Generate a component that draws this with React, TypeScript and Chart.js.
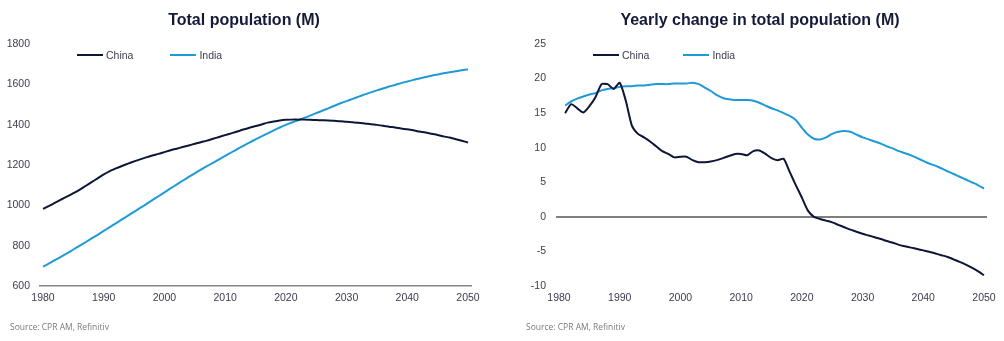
import React, { useEffect, useRef } from "react";
import { Chart, registerables } from "chart.js";

Chart.register(...registerables);

const years: number[] = [
  1980, 1981, 1982, 1983, 1984, 1985, 1986, 1987, 1988, 1989,
  1990, 1991, 1992, 1993, 1994, 1995, 1996, 1997, 1998, 1999,
  2000, 2001, 2002, 2003, 2004, 2005, 2006, 2007, 2008, 2009,
  2010, 2011, 2012, 2013, 2014, 2015, 2016, 2017, 2018, 2019,
  2020, 2021, 2022, 2023, 2024, 2025, 2026, 2027, 2028, 2029,
  2030, 2031, 2032, 2033, 2034, 2035, 2036, 2037, 2038, 2039,
  2040, 2041, 2042, 2043, 2044, 2045, 2046, 2047, 2048, 2049, 2050,
];

const chinaPop: number[] = [
  982, 997, 1013, 1029, 1044, 1060, 1077, 1096, 1115, 1134,
  1153, 1170, 1183, 1195, 1207, 1218, 1228, 1238, 1247, 1255,
  1264, 1273, 1281, 1289, 1297, 1305, 1313, 1321, 1330, 1339,
  1348, 1357, 1366, 1376, 1385, 1393, 1401, 1410, 1416, 1421,
  1424, 1425, 1425, 1425, 1424, 1423, 1422, 1421, 1419, 1417,
  1414, 1412, 1409, 1406, 1402, 1399, 1395, 1390, 1386, 1381,
  1377, 1372, 1366, 1361, 1355, 1349, 1342, 1336, 1328, 1320, 1312,
];

const indiaPop: number[] = [
  696, 712, 729, 746, 763, 781, 799, 817, 836, 854,
  873, 892, 911, 930, 949, 968, 987, 1006, 1026, 1045,
  1064, 1084, 1103, 1122, 1141, 1159, 1177, 1194, 1211, 1228,
  1245, 1262, 1279, 1295, 1311, 1327, 1342, 1357, 1372, 1386,
  1399, 1411, 1422, 1433, 1445, 1457, 1469, 1481, 1494, 1506,
  1517, 1528, 1539, 1550, 1560, 1570, 1579, 1589, 1597, 1606,
  1614, 1622, 1629, 1636, 1643, 1649, 1655, 1660, 1665, 1670, 1674,
];

const changeYears: number[] = years.slice(1);

const chinaChange: number[] = [
  15.0, 16.3, 15.7, 15.1, 16.0, 17.3, 19.2, 19.2, 18.5, 19.4,
  16.8, 13.2, 12.0, 11.5, 10.9, 10.2, 9.5, 9.1, 8.6, 8.7,
  8.7, 8.2, 7.9, 7.9, 8.0, 8.2, 8.5, 8.8, 9.1, 9.1,
  8.9, 9.5, 9.6, 9.1, 8.5, 8.2, 8.4, 6.5, 4.6, 2.8,
  0.9, 0.0, -0.3, -0.55, -0.8, -1.15, -1.5, -1.85, -2.15, -2.45,
  -2.7, -2.95, -3.2, -3.5, -3.75, -4.05, -4.25, -4.45, -4.65, -4.85,
  -5.05, -5.3, -5.55, -5.8, -6.15, -6.5, -6.9, -7.35, -7.85, -8.45,
];

const indiaChange: number[] = [
  16.1, 16.7, 17.1, 17.4, 17.7, 17.9, 18.3, 18.5, 18.6, 18.8,
  18.9, 18.9, 19.0, 19.0, 19.1, 19.2, 19.2, 19.2, 19.3, 19.3,
  19.3, 19.4, 19.2, 18.7, 18.2, 17.6, 17.2, 17.0, 16.9, 16.9,
  16.9, 16.8, 16.5, 16.1, 15.7, 15.4, 15.0, 14.6, 14.0, 12.9,
  11.9, 11.3, 11.2, 11.5, 12.0, 12.3, 12.4, 12.3, 11.9, 11.5,
  11.2, 10.9, 10.6, 10.2, 9.9, 9.5, 9.2, 8.9, 8.5, 8.1,
  7.7, 7.4, 7.0, 6.6, 6.2, 5.8, 5.4, 5.0, 4.6, 4.1,
];

const xTicks: number[] = [1980, 1990, 2000, 2010, 2020, 2030, 2040, 2050];
const seriesNames: string[] = ["China", "India"];
const titles: string[] = ["Total population (M)", "Yearly change in total population (M)"];
const sourceText = "Source: CPR AM, Refinitiv";

const CHINA = "#0e1638";
const INDIA = "#1f9ad6";
const TICK = "#3c3c4e";
const FONT = "'Liberation Sans', Arial, sans-serif";

type PanelProps = {
  xs: number[];
  china: number[];
  india: number[];
  yMin: number;
  yMax: number;
  yStep: number;
  width: number;
  yAxisWidth: number;
  padRight: number;
  zeroLine: boolean;
};

function Panel(p: PanelProps) {
  const ref = useRef<HTMLCanvasElement | null>(null);
  useEffect(() => {
    if (!ref.current) return;
    const chart = new Chart(ref.current, {
      type: "line",
      data: {
        datasets: [
          {
            label: seriesNames[0],
            data: p.xs.map((x, i) => ({ x, y: p.china[i] })),
            borderColor: CHINA,
            backgroundColor: CHINA,
            borderWidth: 2,
            pointRadius: 0,
            tension: 0.2,
          },
          {
            label: seriesNames[1],
            data: p.xs.map((x, i) => ({ x, y: p.india[i] })),
            borderColor: INDIA,
            backgroundColor: INDIA,
            borderWidth: 2,
            pointRadius: 0,
            tension: 0.2,
          },
        ],
      },
      options: {
        animation: false,
        responsive: false,
        devicePixelRatio: 1,
        layout: { padding: { top: 44, right: p.padRight, bottom: 25, left: 0 } },
        plugins: { legend: { display: false }, title: { display: false }, tooltip: { enabled: false } },
        scales: {
          x: {
            type: "linear",
            min: 1979.5,
            max: 2050.5,
            afterBuildTicks: (axis: any) => {
              axis.ticks = xTicks.map((v) => ({ value: v }));
            },
            afterFit: (axis: any) => {
              axis.height = 30;
            },
            grid: { display: false, drawTicks: false },
            border: { display: !p.zeroLine, color: "#868686", width: 1.5 },
            ticks: {
              padding: 6,
              color: TICK,
              font: { family: FONT, size: 10.5 },
              maxRotation: 0,
              autoSkip: false,
              callback: (v: any) => String(v),
            },
          },
          y: {
            min: p.yMin,
            max: p.yMax,
            afterFit: (axis: any) => {
              axis.width = p.yAxisWidth;
            },
            grid: {
              display: p.zeroLine,
              drawTicks: false,
              lineWidth: 2,
              color: (ctx: any) => (ctx.tick && ctx.tick.value === 0 ? "#7f7f7f" : "rgba(0,0,0,0)"),
            },
            border: { display: false },
            ticks: {
              stepSize: p.yStep,
              padding: 10,
              color: TICK,
              font: { family: FONT, size: 10.5 },
              callback: (v: any) => String(v),
            },
          },
        },
      },
    });
    return () => chart.destroy();
  }, []);
  return <canvas ref={ref} width={p.width} height={341} style={{ position: "absolute", left: 0, top: 0 }} />;
}

function Legend({ left, gap }: { left: number; gap: number }) {
  const item = (name: string, color: string) => (
    <div style={{ display: "flex", alignItems: "center", marginRight: gap }}>
      <div style={{ width: 26, height: 2.5, background: color, marginRight: 3 }} />
      <span style={{ fontFamily: FONT, fontSize: 10.5, color: TICK }}>{name}</span>
    </div>
  );
  return (
    <div style={{ position: "absolute", left, top: 48, height: 14, display: "flex", alignItems: "center" }}>
      {item(seriesNames[0], CHINA)}
      {item(seriesNames[1], INDIA)}
    </div>
  );
}

export default function App() {
  const titleStyle: React.CSSProperties = {
    position: "absolute",
    top: 12,
    fontFamily: FONT,
    fontWeight: "bold",
    fontSize: 16,
    lineHeight: "16px",
    color: "#151a38",
    whiteSpace: "nowrap",
    transform: "translateX(-50%)",
  };
  const srcStyle: React.CSSProperties = {
    position: "absolute",
    top: 321,
    fontFamily: "'Open Sans', 'Liberation Sans', sans-serif",
    fontSize: 8.5,
    color: "#7a7a7a",
    whiteSpace: "nowrap",
  };
  return (
    <div style={{ position: "absolute", left: 0, top: 0, width: 1004, height: 341, background: "#fff", overflow: "hidden" }}>
      <div style={{ position: "absolute", left: 0, top: 0, width: 500, height: 341 }}>
        <Panel xs={years} china={chinaPop} india={indiaPop} yMin={600} yMax={1800} yStep={200} width={500} yAxisWidth={40} padRight={29} zeroLine={false} />
        <div style={{ ...titleStyle, left: 244 }}>{titles[0]}</div>
        <Legend left={77} gap={37} />
        <div style={{ ...srcStyle, left: 10 }}>{sourceText}</div>
      </div>
      <div style={{ position: "absolute", left: 500, top: 0, width: 504, height: 341 }}>
        <Panel xs={changeYears} china={chinaChange} india={indiaChange} yMin={-10} yMax={25} yStep={5} width={504} yAxisWidth={56} padRight={17} zeroLine={true} />
        <div style={{ ...titleStyle, left: 260 }}>{titles[1]}</div>
        <Legend left={93} gap={34} />
        <div style={{ ...srcStyle, left: 26 }}>{sourceText}</div>
      </div>
    </div>
  );
}
